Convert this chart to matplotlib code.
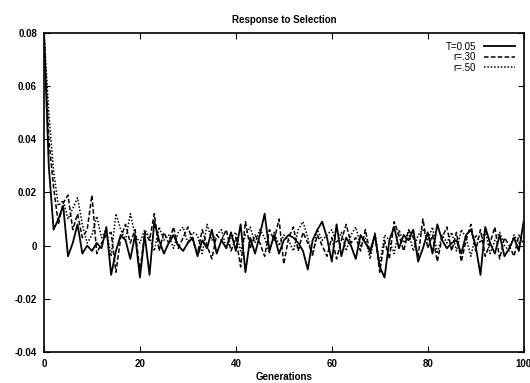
import numpy as np
import matplotlib
matplotlib.use("Agg")
import matplotlib.pyplot as plt
from matplotlib.ticker import FuncFormatter

# response to selection per generation (rows = 10 generations)
t_005 = [
    0.080, 0.030, 0.006, 0.010, 0.015, -0.004, 0.001, 0.008, -0.003, 0.000,
    -0.002, 0.001, -0.001, 0.007, -0.011, -0.002, 0.004, 0.002, -0.005, 0.004,
    -0.012, 0.004, -0.011, 0.009, 0.002, -0.003, 0.001, 0.004, 0.000, -0.002,
    0.001, 0.003, -0.004, 0.002, -0.001, 0.006, -0.003, 0.002, -0.001, 0.005,
    -0.002, 0.008, -0.010, 0.003, -0.003, 0.004, 0.012, -0.002, 0.004, -0.003,
    0.002, 0.004, 0.003, 0.001, -0.002, -0.009, 0.002, 0.006, 0.009, 0.003,
    -0.006, 0.008, -0.004, 0.003, 0.000, -0.005, 0.004, 0.001, -0.002, 0.004,
    -0.008, -0.012, 0.002, 0.007, -0.001, 0.004, 0.002, 0.006, -0.006, -0.001,
    0.005, -0.003, 0.008, 0.002, -0.001, 0.001, 0.002, -0.003, 0.004, 0.006,
    0.000, -0.011, 0.007, 0.001, -0.003, 0.004, -0.004, -0.001, 0.003, -0.002,
    0.009,
]
r_030 = [
    0.080, 0.040, 0.022, 0.008, 0.016, 0.019, 0.006, 0.012, 0.003, 0.006,
    0.019, -0.003, 0.001, 0.004, 0.005, -0.010, 0.003, 0.008, 0.001, 0.006,
    -0.010, 0.005, 0.002, 0.012, -0.002, 0.005, 0.001, 0.007, -0.001, 0.003,
    0.007, 0.002, -0.003, 0.006, 0.000, -0.005, 0.004, 0.002, 0.006, -0.002,
    0.003, -0.008, 0.009, -0.001, 0.004, 0.001, -0.004, 0.006, 0.002, 0.010,
    -0.007, 0.003, 0.007, -0.002, 0.005, 0.001, -0.003, 0.004, 0.000, -0.004,
    0.003, -0.005, 0.002, 0.008, 0.001, 0.003, -0.002, 0.006, -0.003, 0.004,
    -0.010, 0.002, -0.005, 0.009, 0.004, -0.002, 0.006, 0.003, -0.004, 0.010,
    -0.001, 0.004, -0.006, 0.003, 0.007, -0.002, 0.005, -0.006, 0.002, 0.008,
    -0.002, 0.006, -0.004, 0.001, 0.007, -0.005, 0.003, 0.000, -0.004, 0.004,
    0.001,
]
r_050 = [
    0.080, 0.050, 0.028, 0.015, 0.017, 0.010, 0.014, 0.018, 0.008, 0.001,
    0.004, 0.011, 0.003, 0.006, -0.004, 0.012, 0.006, 0.002, 0.012, 0.004,
    0.001, 0.006, 0.003, -0.002, 0.007, 0.002, 0.004, -0.001, 0.005, 0.007,
    0.001, 0.005, 0.004, -0.003, 0.008, 0.002, 0.004, 0.006, -0.001, 0.003,
    0.005, -0.002, 0.004, 0.007, 0.001, 0.006, 0.003, -0.003, 0.005, 0.000,
    0.004, 0.002, -0.002, 0.006, 0.009, 0.003, -0.004, 0.006, 0.002, 0.004,
    0.006, 0.001, 0.005, -0.002, 0.004, 0.007, 0.000, 0.003, -0.005, 0.005,
    -0.007, 0.004, 0.002, -0.003, 0.006, 0.001, 0.005, -0.002, 0.004, 0.006,
    0.002, 0.007, -0.003, 0.004, 0.001, 0.005, -0.002, 0.006, 0.003, -0.004,
    0.004, 0.001, 0.006, -0.003, 0.002, 0.005, 0.000, -0.002, 0.004, 0.001,
    0.003,
]
labels = ["T=0.05", "r=.30", "r=.50"]

plt.rcParams['font.family'] = ['Liberation Sans', 'DejaVu Sans']

fig = plt.figure(figsize=(5.3, 3.83), dpi=100)
ax = fig.add_axes([0.083, 0.081, 0.905, 0.833])

ax.plot(np.arange(len(t_005)), t_005, color='black', lw=1.3, ls='-', label=labels[0])
ax.plot(np.arange(len(r_030)), r_030, color='black', lw=1.1, ls=(0, (3, 1.5)), label=labels[1])
ax.plot(np.arange(len(r_050)), r_050, color='black', lw=1.1, ls=(0, (1, 1.2)), label=labels[2])

ax.set_xlim(0, 100)
ax.set_ylim(-0.04, 0.08)
ax.set_xticks(np.arange(0, 101, 20))
ax.set_yticks(np.arange(-0.04, 0.081, 0.02))
ax.yaxis.set_major_formatter(FuncFormatter(lambda v, p: '%g' % round(v, 3)))
ax.tick_params(direction='in', length=4, width=0.8, top=True, right=True,
               labelsize=7, pad=5)
for lab in ax.get_xticklabels() + ax.get_yticklabels():
    lab.set_fontweight('bold')
for s in ax.spines.values():
    s.set_linewidth(1.2)

ax.set_title("Response to Selection", fontsize=7, fontweight='bold', pad=7)
ax.set_xlabel("Generations", fontsize=7, fontweight='bold', labelpad=2)

leg = ax.legend(loc='upper right', frameon=False, markerfirst=False, fontsize=7,
                handlelength=3.2, handletextpad=0.8, labelspacing=0.05,
                borderaxespad=0.5)
for t in leg.get_texts():
    t.set_ha('right')

fig.savefig("out.png", dpi=100)
